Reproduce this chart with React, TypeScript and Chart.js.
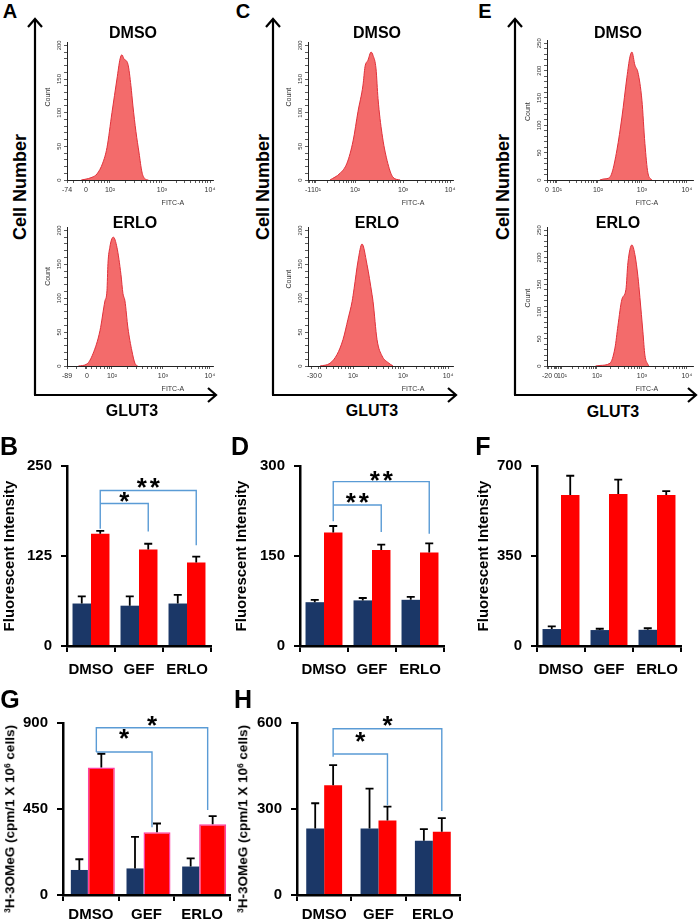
import React, { useEffect, useRef } from 'react';
import { Chart, registerables } from 'chart.js';

Chart.register(...registerables);

const SANS = '"Liberation Sans", Arial, Helvetica, sans-serif';
const NAVY = '#1b3767';
const RED = '#ff0000';
const BRACKET = '#5a9bd5';
const HIST_FILL = '#f36b6b';
const HIST_LINE = '#e0303a';

// ---------- flow cytometry histograms (x: display channel 0-1023, y: count) ----------
const aDmsoX = [100, 126, 175, 210, 250, 280, 315, 350, 372, 385, 399, 427, 448, 462, 483, 505, 525, 545, 570];
const aDmsoY = [0, 1, 4, 9, 25, 48, 100, 150, 180, 186, 180, 172, 140, 110, 72, 40, 12, 2, 0];
const aErloX = [80, 140, 182, 231, 266, 280, 287, 300, 315, 325, 350, 378, 392, 406, 427, 455, 476, 495];
const aErloY = [0, 3, 18, 52, 96, 111, 151, 175, 188, 190, 175, 135, 107, 96, 56, 22, 4, 0];
const cDmsoX = [155, 226, 275, 318, 353, 388, 402, 423, 445, 459, 480, 494, 522, 558, 600, 650];
const cDmsoY = [0, 10, 25, 58, 102, 141, 168, 178, 190, 185, 165, 121, 69, 29, 4, 0];
const cErloX = [85, 155, 205, 247, 282, 311, 325, 353, 381, 416, 452, 459, 487, 522, 565, 600];
const cErloY = [0, 4, 17, 39, 69, 95, 114, 155, 180, 150, 105, 95, 39, 15, 5, 0];
const eDmsoX = [370, 400, 428, 455, 490, 525, 560, 581, 595, 616, 637, 665, 686, 707, 735];
const eDmsoY = [0, 2, 3, 13, 55, 115, 188, 225, 234, 210, 197, 146, 67, 13, 0];
const eErloX = [340, 371, 441, 476, 497, 525, 553, 567, 595, 616, 637, 651, 672, 686, 707, 714];
const eErloY = [0, 1, 5, 33, 74, 123, 141, 190, 223, 205, 165, 126, 63, 20, 3, 0];

// FITC-A axis tick positions (channel) and labels
const aDmsoTickPos = [0, 133, 301, 665, 1002];
const aDmsoTickLab = ['-74', '0', '10²', '10³', '10⁴'];
const aErloTickPos = [0, 140, 315, 672, 1001];
const aErloTickLab = ['-89', '0', '10²', '10³', '10⁴'];
const cDmsoTickPos = [0, 56, 332, 671, 1002];
const cDmsoTickLab = ['-1', '10¹', '10²', '10³', '10⁴'];
const cErloTickPos = [28, 85, 318, 671, 988];
const cErloTickLab = ['-30', '0', '10²', '10³', '10⁴'];
const eDmsoTickPos = [0, 70, 357, 665, 980];
const eDmsoTickLab = ['0', '10¹', '10²', '10³', '10⁴'];
const eErloTickPos = [0, 63, 105, 350, 665, 980];
const eErloTickLab = ['-20', '0', '10¹', '10²', '10³', '10⁴'];

// ---------- bar charts ----------
const groups = ['DMSO', 'GEF', 'ERLO'];
const seriesNames = ['Control', 'GLUT3'];

const bNavy = [59, 56, 59];
const bNavyErr = [10, 13, 12];
const bRed = [156, 134, 116];
const bRedErr = [4, 8, 8];
const bTicks = [0, 125, 250];

const dNavy = [73, 76, 77];
const dNavyErr = [4, 4, 5];
const dRed = [189, 160, 156];
const dRedErr = [11, 9, 15];
const dTicks = [0, 150, 300];

const fNavy = [66, 62, 63];
const fNavyErr = [10, 5, 6];
const fRed = [587, 591, 587];
const fRedErr = [75, 56, 15];
const fTicks = [0, 350, 700];

const gNavy = [131, 139, 149];
const gNavyErr = [56, 165, 43];
const gRed = [667, 328, 370];
const gRedErr = [72, 46, 43];
const gTicks = [0, 450, 900];

const hNavy = [232, 232, 189];
const hNavyErr = [88, 139, 41];
const hRed = [383, 260, 221];
const hRedErr = [70, 48, 47];
const hTicks = [0, 300, 600];

type Br = { from: number; to: number; level: number; leftBottom?: number; rightBottom: number; label: string; labelDy: number };
const bBrackets: Br[] = [
  { from: 0, to: 2, level: 216, leftBottom: 163, rightBottom: 140, label: '**', labelDy: -7 },
  { from: 0, to: 1, level: 198, rightBottom: 159, label: '*', labelDy: -6 },
];
const dBrackets: Br[] = [
  { from: 0, to: 2, level: 274, leftBottom: 208, rightBottom: 187, label: '**', labelDy: -6 },
  { from: 0, to: 1, level: 235, rightBottom: 190, label: '**', labelDy: -7 },
];
const gBrackets: Br[] = [
  { from: 0, to: 2, level: 875, leftBottom: 748, rightBottom: 445, label: '*', labelDy: -7 },
  { from: 0, to: 1, level: 748, rightBottom: 354, label: '*', labelDy: -18 },
];
const hBrackets: Br[] = [
  { from: 0, to: 2, level: 580, leftBottom: 482, rightBottom: 293, label: '*', labelDy: -8 },
  { from: 0, to: 1, level: 492, rightBottom: 313, label: '*', labelDy: -17 },
];

// ---------- helpers ----------
type Area = { l: number; t: number; r: number; b: number };
type Marg = { l: number; t: number; r: number; b: number };

function rectOf(a: Area, m: Marg) {
  return { x: a.l - m.l, y: a.t - m.t, w: a.r - a.l + m.l + m.r, h: a.b - a.t + m.t + m.b };
}

function minorTicks(pos: number[], lab: string[]) {
  const dec: number[] = [];
  lab.forEach((l, i) => { if (l.startsWith('10') && l.length > 2) dec.push(i); });
  const out: number[] = [];
  for (let j = 0; j < dec.length - 1; j++) {
    const a = pos[dec[j]], b = pos[dec[j + 1]];
    for (let k = 2; k < 10; k++) out.push(a + Math.log10(k) * (b - a));
  }
  if (dec.length >= 2) {
    const a = pos[dec[0]], b = pos[dec[1]];
    for (let k = 2; k < 10; k++) {
      const p = a - (b - a) * (1 - Math.log10(k));
      if (p > pos[0] + 6) out.push(p);
    }
  }
  return out;
}

const histDeco = (yMajors: number[], countAt: number, fitcAt: number) => ({
  id: 'histDeco',
  afterDraw(chart: any) {
    const { ctx, chartArea, scales } = chart;
    ctx.save();
    ctx.fillStyle = '#333';
    ctx.textAlign = 'center';
    ctx.textBaseline = 'middle';
    ctx.font = `6px ${SANS}`;
    yMajors.forEach((v) => {
      const y = scales.y.getPixelForValue(v);
      ctx.save();
      ctx.translate(chartArea.left - 8, y);
      ctx.rotate(-Math.PI / 2);
      ctx.fillText(String(v), 0, 0);
      ctx.restore();
    });
    ctx.font = `7px ${SANS}`;
    ctx.save();
    ctx.translate(chartArea.left - 19, scales.y.getPixelForValue(countAt));
    ctx.rotate(-Math.PI / 2);
    ctx.fillText('Count', 0, 0);
    ctx.restore();
    ctx.fillText('FITC-A', scales.x.getPixelForValue(fitcAt), chartArea.bottom + 23);
    ctx.restore();
  },
});

type Hist = {
  name: string; x: number[]; y: number[]; pos: number[]; lab: string[];
  yMax: number; yTop: number; area: Area; countAt: number; fitcAt: number;
};

const HM: Marg = { l: 30, t: 4, r: 6, b: 30 };

function histConfig(h: Hist) {
  const minors = minorTicks(h.pos, h.lab);
  const allX = [...h.pos, ...minors].sort((a, b) => a - b);
  const yMinor: number[] = [];
  for (let v = 0; v <= h.yTop; v += 10) yMinor.push(v);
  const yMajors = yMinor.filter((v) => v % 50 === 0);
  const labelFor = (v: number) => {
    const i = h.pos.findIndex((p) => Math.abs(p - v) < 0.01);
    return i >= 0 ? h.lab[i] : '';
  };
  return {
    type: 'line',
    data: {
      datasets: [{
        label: h.name,
        data: h.x.map((x, i) => ({ x, y: h.y[i] })),
        fill: 'origin',
        backgroundColor: HIST_FILL,
        borderColor: HIST_LINE,
        borderWidth: 1,
        pointRadius: 0,
        tension: 0.4,
        cubicInterpolationMode: 'monotone',
      }],
    },
    options: {
      animation: false,
      responsive: false,
      maintainAspectRatio: false,
      events: [],
      layout: { padding: { left: 0, top: HM.t, right: HM.r, bottom: 0 }, autoPadding: false },
      plugins: { legend: { display: false }, tooltip: { enabled: false } },
      scales: {
        x: {
          type: 'linear', min: 0, max: 1023,
          afterFit: (s: any) => { s.height = HM.b; },
          afterBuildTicks: (s: any) => { s.ticks = allX.map((v) => ({ value: v })); },
          ticks: {
            autoSkip: false, maxRotation: 0, minRotation: 0, padding: 3,
            font: { size: 7, family: SANS }, color: '#333',
            callback: (v: any) => labelFor(Number(v)),
          },
          grid: { drawOnChartArea: false, drawTicks: true, tickLength: 3, color: '#333', lineWidth: 0.8 },
          border: { color: '#222', width: 1 },
        },
        y: {
          min: 0, max: h.yMax,
          afterFit: (s: any) => { s.width = HM.l; },
          afterBuildTicks: (s: any) => { s.ticks = yMinor.map((v) => ({ value: v })); },
          ticks: { display: false },
          grid: { drawOnChartArea: false, drawTicks: true, tickLength: 3, color: '#333', lineWidth: 0.8 },
          border: { color: '#222', width: 1 },
        },
      },
    },
    plugins: [histDeco(yMajors, h.countAt, h.fitcAt)],
  };
}

// optional: unequal bar widths within a pair, kept side by side around the category centre
const pairWidthPlugin = (widths: number[] | undefined, shift: number) => ({
  id: 'pairWidth',
  afterDatasetsUpdate(chart: any) {
    if (!widths) return;
    const xs = chart.scales.x;
    const m0 = chart.getDatasetMeta(0).data;
    const m1 = chart.getDatasetMeta(1).data;
    m0.forEach((bar: any, i: number) => {
      const j = xs.getPixelForValue(i) + shift;
      bar.width = widths[0];
      bar.x = j - widths[0] / 2;
      m1[i].width = widths[1];
      m1[i].x = j + widths[1] / 2;
    });
  },
});

const errorBarsPlugin = (errs: number[][]) => ({
  id: 'errorBars',
  afterDatasetsDraw(chart: any) {
    const { ctx } = chart;
    const ys = chart.scales.y;
    ctx.save();
    ctx.strokeStyle = '#000';
    ctx.lineWidth = 1.8;
    errs.forEach((e, d) => {
      const meta = chart.getDatasetMeta(d);
      meta.data.forEach((bar: any, i: number) => {
        const v = chart.data.datasets[d].data[i] as number;
        const y0 = ys.getPixelForValue(v);
        const y1 = ys.getPixelForValue(v + e[i]);
        ctx.beginPath();
        ctx.moveTo(bar.x, y0);
        ctx.lineTo(bar.x, y1);
        ctx.moveTo(bar.x - 4, y1);
        ctx.lineTo(bar.x + 4, y1);
        ctx.stroke();
      });
    });
    ctx.restore();
  },
});

const bracketsPlugin = (items: Br[], dx: number) => ({
  id: 'brackets',
  afterDatasetsDraw(chart: any) {
    const { ctx } = chart;
    const ys = chart.scales.y;
    const bars = chart.getDatasetMeta(1).data;
    ctx.save();
    items.forEach((b) => {
      const x0 = bars[b.from].x + dx;
      const x1 = bars[b.to].x + dx;
      const y = ys.getPixelForValue(b.level);
      ctx.strokeStyle = BRACKET;
      ctx.lineWidth = 1.4;
      ctx.beginPath();
      if (b.leftBottom != null) {
        ctx.moveTo(x0, ys.getPixelForValue(b.leftBottom));
        ctx.lineTo(x0, y);
      } else ctx.moveTo(x0, y);
      ctx.lineTo(x1, y);
      ctx.lineTo(x1, ys.getPixelForValue(b.rightBottom));
      ctx.stroke();
      ctx.fillStyle = '#000';
      ctx.font = `bold 26px ${SANS}`;
      ctx.textAlign = 'center';
      ctx.textBaseline = 'alphabetic';
      const m = ctx.measureText('*');
      const off = (m.actualBoundingBoxAscent - m.actualBoundingBoxDescent) / 2;
      const xm = (x0 + x1) / 2;
      const n = b.label.length;
      for (let k = 0; k < n; k++) ctx.fillText('*', xm + (k - (n - 1) / 2) * 13, y + b.labelDy + off);
    });
    ctx.restore();
  },
});

type BarSpec = {
  navy: number[]; navyErr: number[]; red: number[]; redErr: number[]; ticks: number[];
  brackets: Br[]; area: Area; marg: Marg; cat: number; yTitle?: string; titlePad?: number; redBorder?: string;
  xPad: number; pairW?: number[]; pairShift?: number; brDx?: number;
};

function barConfig(b: BarSpec) {
  const tickFont = { size: 15, weight: 'bold' as const, family: SANS };
  return {
    type: 'bar',
    data: {
      labels: groups,
      datasets: [
        { label: seriesNames[0], data: b.navy, backgroundColor: NAVY, borderWidth: 0, categoryPercentage: b.cat, barPercentage: 1 },
        {
          label: seriesNames[1], data: b.red, backgroundColor: RED,
          borderColor: b.redBorder || RED, borderWidth: b.redBorder ? 1.5 : 0,
          categoryPercentage: b.cat, barPercentage: 1,
        },
      ],
    },
    options: {
      animation: false,
      responsive: false,
      maintainAspectRatio: false,
      events: [],
      layout: { padding: { left: 0, top: b.marg.t, right: b.marg.r, bottom: 0 }, autoPadding: false },
      plugins: { legend: { display: false }, tooltip: { enabled: false } },
      scales: {
        x: {
          afterFit: (s: any) => { s.height = b.marg.b; },
          ticks: { font: tickFont, color: '#000', padding: b.xPad, maxRotation: 0, autoSkip: false },
          grid: { offset: true, drawOnChartArea: false, drawTicks: true, tickLength: 6, color: '#000', lineWidth: 2 },
          border: { color: '#000', width: 2.5 },
        },
        y: {
          min: 0, max: b.ticks[b.ticks.length - 1],
          afterFit: (s: any) => { s.width = b.marg.l; },
          afterBuildTicks: (s: any) => { s.ticks = b.ticks.map((v) => ({ value: v })); },
          ticks: { font: tickFont, color: '#000', padding: 9 },
          grid: { drawOnChartArea: false, drawTicks: true, tickLength: 6, color: '#000', lineWidth: 2 },
          border: { color: '#000', width: 2.5 },
          title: b.yTitle
            ? { display: true, text: b.yTitle, color: '#000', font: { size: 15, weight: 'bold', family: SANS }, padding: { top: b.titlePad || 0, bottom: 0 } }
            : { display: false },
        },
      },
    },
    plugins: [pairWidthPlugin(b.pairW, b.pairShift || 0), errorBarsPlugin([b.navyErr, b.redErr]), bracketsPlugin(b.brackets, b.brDx || 0)],
  };
}

function ChartBox({ rect, make }: { rect: { x: number; y: number; w: number; h: number }; make: () => any }) {
  const ref = useRef<HTMLCanvasElement>(null);
  useEffect(() => {
    const chart = new Chart(ref.current as HTMLCanvasElement, make());
    return () => chart.destroy();
  }, []);
  return (
    <canvas
      ref={ref}
      width={rect.w}
      height={rect.h}
      style={{ position: 'absolute', left: rect.x, top: rect.y, width: rect.w, height: rect.h }}
    />
  );
}

function T({ x, y, size, children, rot }: { x: number; y: number; size: number; children: any; rot?: boolean }) {
  return (
    <div
      style={{
        position: 'absolute', left: x, top: y,
        transform: `translate(-50%, -50%)${rot ? ' rotate(-90deg)' : ''}`,
        fontFamily: SANS, fontWeight: 700, fontSize: size, lineHeight: 1,
        whiteSpace: 'nowrap', color: '#000',
      }}
    >
      {children}
    </div>
  );
}

const hists: Hist[] = [
  { name: 'A DMSO', x: aDmsoX, y: aDmsoY, pos: aDmsoTickPos, lab: aDmsoTickLab, yMax: 205, yTop: 200, area: { l: 67, t: 42, r: 213, b: 180 }, countAt: 123, fitcAt: 742 },
  { name: 'A ERLO', x: aErloX, y: aErloY, pos: aErloTickPos, lab: aErloTickLab, yMax: 205, yTop: 200, area: { l: 67, t: 227, r: 213, b: 366 }, countAt: 132, fitcAt: 742 },
  { name: 'C DMSO', x: cDmsoX, y: cDmsoY, pos: cDmsoTickPos, lab: cDmsoTickLab, yMax: 205, yTop: 200, area: { l: 308, t: 42, r: 453, b: 180 }, countAt: 123, fitcAt: 741 },
  { name: 'C ERLO', x: cErloX, y: cErloY, pos: cErloTickPos, lab: cErloTickLab, yMax: 205, yTop: 200, area: { l: 308, t: 227, r: 453, b: 366 }, countAt: 128, fitcAt: 741 },
  { name: 'E DMSO', x: eDmsoX, y: eDmsoY, pos: eDmsoTickPos, lab: eDmsoTickLab, yMax: 256, yTop: 250, area: { l: 547, t: 40, r: 693, b: 180 }, countAt: 125, fitcAt: 700 },
  { name: 'E ERLO', x: eErloX, y: eErloY, pos: eErloTickPos, lab: eErloTickLab, yMax: 256, yTop: 250, area: { l: 547, t: 227, r: 693, b: 366 }, countAt: 125, fitcAt: 700 },
];

const bars: BarSpec[] = [
  { navy: bNavy, navyErr: bNavyErr, red: bRed, redErr: bRedErr, ticks: bTicks, brackets: bBrackets, area: { l: 67, t: 460, r: 211, b: 646 }, marg: { l: 67, t: 12, r: 10, b: 40 }, cat: 0.77, yTitle: 'Fluorescent Intensity', titlePad: 1, xPad: 9 },
  { navy: dNavy, navyErr: dNavyErr, red: dRed, redErr: dRedErr, ticks: dTicks, brackets: dBrackets, area: { l: 300, t: 460, r: 444, b: 646 }, marg: { l: 70, t: 12, r: 10, b: 40 }, cat: 0.77, yTitle: 'Fluorescent Intensity', titlePad: 3, xPad: 9 },
  { navy: fNavy, navyErr: fNavyErr, red: fRed, redErr: fRedErr, ticks: fTicks, brackets: [], area: { l: 537, t: 460, r: 681, b: 646 }, marg: { l: 67, t: 12, r: 10, b: 40 }, cat: 0.77, yTitle: 'Fluorescent Intensity', titlePad: 5, xPad: 9 },
  { navy: gNavy, navyErr: gNavyErr, red: gRed, redErr: gRedErr, ticks: gTicks, brackets: gBrackets, area: { l: 63, t: 717, r: 230, b: 895 }, marg: { l: 63, t: 12, r: 10, b: 28 }, cat: 0.65, redBorder: '#ff3fa0', xPad: 5, pairW: [17, 27], pairShift: -3, brDx: -5 },
  { navy: hNavy, navyErr: hNavyErr, red: hRed, redErr: hRedErr, ticks: hTicks, brackets: hBrackets, area: { l: 297, t: 717, r: 460, b: 895 }, marg: { l: 65, t: 12, r: 10, b: 28 }, cat: 0.66, xPad: 5 },
];

const OMEG = (
  <span>
    <sup style={{ fontSize: '0.62em', verticalAlign: '0.45em' }}>3</sup>H-3OMeG (cpm/1 X 10
    <sup style={{ fontSize: '0.62em', verticalAlign: '0.45em' }}>6</sup> cells)
  </span>
);

export default function App() {
  const arrowCols = [
    { x: 35, r: 216 },
    { x: 273, r: 456 },
    { x: 515, r: 696 },
  ];
  return (
    <div style={{ position: 'absolute', left: 0, top: 0, width: 700, height: 923, background: '#fff', overflow: 'hidden' }}>
      <svg width={700} height={923} style={{ position: 'absolute', left: 0, top: 0 }}>
        {arrowCols.map((c, i) => (
          <g key={i} stroke="#000" strokeWidth={2.2} fill="none">
            <line x1={c.x} y1={19} x2={c.x} y2={395} />
            <line x1={c.x - 1} y1={395} x2={c.r} y2={395} />
            <polyline points={`${c.x - 7},27 ${c.x},19 ${c.x + 7},27`} />
            <polyline points={`${c.r - 8},388 ${c.r},395 ${c.r - 8},402`} />
          </g>
        ))}
      </svg>

      {hists.map((h, i) => (
        <ChartBox key={'h' + i} rect={rectOf(h.area, HM)} make={() => histConfig(h)} />
      ))}
      {bars.map((b, i) => (
        <ChartBox key={'b' + i} rect={rectOf(b.area, b.marg)} make={() => barConfig(b)} />
      ))}

      <T x={10} y={11} size={20}>A</T>
      <T x={243} y={11} size={20}>C</T>
      <T x={485} y={11} size={20}>E</T>
      <T x={9} y={446} size={25}>B</T>
      <T x={240} y={446} size={25}>D</T>
      <T x={483} y={446} size={25}>F</T>
      <T x={10} y={699} size={25}>G</T>
      <T x={243} y={699} size={25}>H</T>

      <T x={20} y={187} size={18} rot>Cell Number</T>
      <T x={263} y={187} size={18} rot>Cell Number</T>
      <T x={503} y={187} size={18} rot>Cell Number</T>

      <T x={133} y={33} size={16}>DMSO</T>
      <T x={135} y={223} size={16}>ERLO</T>
      <T x={377} y={33} size={16}>DMSO</T>
      <T x={377} y={223} size={16}>ERLO</T>
      <T x={618} y={33} size={16}>DMSO</T>
      <T x={618} y={223} size={16}>ERLO</T>

      <T x={132} y={411} size={16}>GLUT3</T>
      <T x={372} y={411} size={16}>GLUT3</T>
      <T x={613} y={412} size={16}>GLUT3</T>

      <T x={10} y={819} size={13.5} rot>{OMEG}</T>
      <T x={243} y={819} size={13.5} rot>{OMEG}</T>
    </div>
  );
}
